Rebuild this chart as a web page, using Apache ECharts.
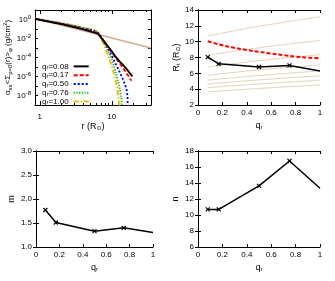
<!DOCTYPE html>
<html><head><meta charset="utf-8">
<script src="https://cdn.jsdelivr.net/npm/echarts@6/dist/echarts.min.js"></script>
<style>html,body{margin:0;padding:0;background:#fff}#c{width:335px;height:281px}</style>
</head><body><div id="c"></div>
<script>
// ---------- data ----------
const legendNames = ['0.08', '0.17', '0.50', '0.76', '1.00'];
// panel 1: profiles vs r (R_sun)
const r08 = [0.86, 1, 1.5, 2, 3, 4, 5, 6, 6.5, 7, 8, 9, 10, 11, 12, 13, 14, 15, 16, 17, 18, 19.3];
const v08 = [1.2, 0.93, 0.5, 0.32, 0.16, 0.089, 0.056, 0.038, 0.028, 0.014, 4.0e-3, 1.26e-3, 4.5e-4, 1.6e-4, 7.1e-5, 3.5e-5, 2.0e-5, 1.1e-5, 6.3e-6, 3.5e-6, 2.0e-6, 1.0e-6];
const r17 = [0.86, 1, 1.5, 2, 3, 4, 5, 6, 6.5, 7, 8, 9, 10, 11, 12, 13, 14, 15, 16, 17, 18, 18.7];
const v17 = [1.2, 0.95, 0.52, 0.34, 0.17, 0.1, 0.063, 0.043, 0.032, 0.016, 4.0e-3, 1.1e-3, 3.5e-4, 1.26e-4, 5.0e-5, 2.2e-5, 1.0e-5, 5.0e-6, 2.2e-6, 1.1e-6, 5.6e-7, 3.5e-7];
const r50 = [0.86, 1, 1.5, 2, 3, 4, 5, 6, 6.5, 7, 8, 9, 10, 11, 12, 13, 14, 15, 16, 16.5, 16.8];
const v50 = [1.2, 0.98, 0.56, 0.37, 0.2, 0.117, 0.079, 0.052, 0.038, 0.018, 3.5e-3, 7.1e-4, 1.6e-4, 3.2e-5, 8.9e-6, 2.5e-6, 7.1e-7, 2.0e-7, 5.0e-8, 1.0e-8, 1e-10];
const r76 = [0.86, 1, 1.5, 2, 3, 4, 5, 6, 6.5, 7, 8, 9, 10, 11, 12, 13, 13.7, 14];
const v76 = [1.2, 1.0, 0.59, 0.4, 0.22, 0.13, 0.089, 0.06, 0.04, 0.016, 2.5e-3, 4.0e-4, 7.1e-5, 6.3e-6, 5.0e-7, 4.0e-8, 3.2e-9, 1e-10];
const r100 = [0.86, 1, 1.5, 2, 3, 4, 5, 6, 6.5, 7, 8, 9, 10, 11, 12, 12.5, 12.7];
const v100 = [1.2, 1.0, 0.6, 0.42, 0.24, 0.14, 0.1, 0.066, 0.04, 0.0126, 1.26e-3, 1.26e-4, 1.26e-5, 1.0e-6, 4.0e-8, 3.2e-9, 1e-10];
const rTan = [0.86, 35];
const vTan = [1.25, 1.0e-3];
const rMajorTicks = [1, 10];
const rMinorTicks = [2, 3, 4, 5, 6, 7, 8, 9, 20, 30];
// panel 2: R_t vs q_r
const qPts = [0.08, 0.17, 0.5, 0.75, 1.0];
const rtVals = [8.05, 7.2, 6.8, 7.0, 6.3];
const qRed = [0.08, 0.2, 0.3, 0.4, 0.5, 0.6, 0.7, 0.8, 0.9, 1.0];
const rtRed = [10.05, 9.55, 9.22, 8.95, 8.72, 8.5, 8.3, 8.12, 7.98, 7.88];
const qTan = [0.08, 0.3, 0.6, 1.0];
const tan1 = [10.7, 11.38, 12.20, 13.14];
const tan2 = [8.27, 8.80, 9.43, 10.15];
const tan3 = [6.81, 7.24, 7.76, 8.36];
const tan4 = [5.76, 6.13, 6.57, 7.07];
const tan5 = [5.13, 5.46, 5.85, 6.30];
const tan6 = [4.63, 4.93, 5.28, 5.68];
const tan7 = [4.18, 4.45, 4.76, 5.13];
const tan8 = [3.67, 3.90, 4.18, 4.51];
// panel 3, 4
const mVals = [1.77, 1.51, 1.33, 1.40, 1.30];
const nVals = [10.7, 10.7, 13.65, 16.75, 13.35];

// ---------- chart ----------
const FONT = 'Liberation Sans, DejaVu Sans, sans-serif';
const zip = (a, b) => a.map((x, i) => [x, b[i]]);
const tick = { show: true, inside: true, length: 3, lineStyle: { color: '#000', width: 1 } };
const line = { show: true, lineStyle: { color: '#000', width: 1 } };
const subRich = { s: { fontSize: 6, verticalAlign: 'bottom' }, p: { fontSize: 6, verticalAlign: 'top' } };

function linX(g, pos, min, max, interval, showLab, name) {
  return {
    type: 'value', gridIndex: g, position: pos, min, max, interval,
    axisLine: line, axisTick: tick, splitLine: { show: false },
    axisLabel: { show: showLab, fontSize: 8, color: '#000', margin: 4, fontFamily: FONT },
    name: name || '', nameLocation: 'middle', nameGap: 16,
    nameTextStyle: { fontSize: 9, color: '#000', fontFamily: FONT, rich: subRich }
  };
}
function linY(g, pos, min, max, interval, showLab, name, gap, fmt) {
  return {
    type: 'value', gridIndex: g, position: pos, min, max, interval,
    axisLine: line, axisTick: tick, splitLine: { show: false },
    axisLabel: { show: showLab, fontSize: 8, color: '#000', margin: 4, fontFamily: FONT, formatter: fmt },
    name: name || '', nameLocation: 'middle', nameGap: gap || 20, nameRotate: 90,
    nameTextStyle: { fontSize: 9, color: '#000', fontFamily: FONT, rich: subRich }
  };
}
const logLabRich = { p: { fontSize: 6, verticalAlign: 'top' } };
function logXLabel(v) {
  const e = Math.log10(v);
  if (Math.abs(e - Math.round(e)) > 1e-6) return '';
  return String(Math.round(Math.pow(10, Math.round(e))));
}
function logYLabel(v) {
  const le = Math.log10(v), e = Math.round(le);
  if (Math.abs(le - e) > 0.01 || e % 2 !== 0) return '';
  return '10{p|' + e + '}';
}

const xAxis = [
  { type: 'log', logBase: 10, gridIndex: 0, position: 'bottom', min: 0.86, max: 35, splitNumber: 2,
    axisLine: line, axisTick: { show: false }, splitLine: { show: false },
    axisLabel: { fontSize: 8, color: '#000', margin: 8, fontFamily: FONT, formatter: logXLabel, showMinLabel: false, showMaxLabel: false },
    name: 'r (R{s|⊙})', nameLocation: 'middle', nameGap: 17,
    nameTextStyle: { fontSize: 9, color: '#000', fontFamily: FONT, rich: subRich } },
  { type: 'log', logBase: 10, gridIndex: 0, position: 'top', min: 0.86, max: 35, splitNumber: 2,
    axisLine: line, axisTick: { show: false }, splitLine: { show: false }, axisLabel: { show: false } },
  linX(1, 'bottom', 0, 1, 0.2, true, 'q{s|r}'),
  linX(1, 'top', 0, 1, 0.2, false),
  linX(2, 'bottom', 0, 1, 0.2, true, 'q{s|r}'),
  linX(2, 'top', 0, 1, 0.2, false),
  linX(3, 'bottom', 0, 1, 0.2, true, 'q{s|r}'),
  linX(3, 'top', 0, 1, 0.2, false)
];
const yAxis = [
  { type: 'log', logBase: 10, gridIndex: 0, position: 'left', min: 1e-9, max: 10, splitNumber: 10,
    axisLine: line, axisTick: tick, splitLine: { show: false },
    axisLabel: { fontSize: 8, color: '#000', margin: 4, fontFamily: FONT, formatter: logYLabel, lineHeight: 11, rich: logLabRich },
    name: 'α{s|ss}<Σ{s|p=0}(r)>{s|φ} (g/cm{p|2})', nameLocation: 'middle', nameGap: 22, nameRotate: 90,
    nameTextStyle: { fontSize: 8, lineHeight: 11, color: '#000', fontFamily: FONT, rich: subRich } },
  { type: 'log', logBase: 10, gridIndex: 0, position: 'right', min: 1e-9, max: 10, splitNumber: 10,
    axisLine: line, axisTick: tick, splitLine: { show: false }, axisLabel: { show: false } },
  linY(1, 'left', 2, 14, 2, true, 'R{s|t} (R{s|⊙})', 14),
  linY(1, 'right', 2, 14, 2, false),
  linY(2, 'left', 1, 3, 0.5, true, 'm', 20, v => v.toFixed(1)),
  linY(2, 'right', 1, 3, 0.5, false),
  linY(3, 'left', 6, 18, 2, true, 'n', 18),
  linY(3, 'right', 6, 18, 2, false)
];

function tickSeries(vals, len) {
  return {
    type: 'custom', xAxisIndex: 0, yAxisIndex: 0, silent: true, clip: false, z: 5,
    data: vals.map(v => [v, 1]),
    renderItem: (params, api) => {
      const x = Math.round(api.coord([api.value(0), 1])[0]) + 0.5;
      const cs = params.coordSys;
      const b = cs.y + cs.height, t = cs.y;
      const st = { stroke: '#000', lineWidth: 1 };
      return { type: 'group', children: [
        { type: 'line', shape: { x1: x, y1: b, x2: x, y2: b - len }, style: st },
        { type: 'line', shape: { x1: x, y1: t, x2: x, y2: t + len }, style: st }
      ] };
    }
  };
}

const profColors = ['#000000', '#ff0000', '#0000ff', '#00c000', '#f5b400'];
const profDash = ['solid', [4, 2], [2, 2], [1.2, 1.5], [5, 2, 1.5, 2]];
const profR = [r08, r17, r50, r76, r100];
const profV = [v08, v17, v50, v76, v100];

const series = [];
series.push({ type: 'line', xAxisIndex: 0, yAxisIndex: 0, data: zip(rTan, vTan), symbol: 'none',
  lineStyle: { color: '#cdb08e', width: 1.5 }, z: 1, silent: true });
legendNames.forEach((nm, i) => {
  series.push({ name: nm, type: 'line', xAxisIndex: 0, yAxisIndex: 0, data: zip(profR[i], profV[i]),
    symbol: 'none', color: profColors[i],
    lineStyle: { color: profColors[i], width: 1.8, type: profDash[i] }, z: 10 - i });
});
series.push(tickSeries(rMajorTicks, 4));
series.push(tickSeries(rMinorTicks, 2));

[tan1, tan2, tan3, tan4, tan5, tan6, tan7, tan8].forEach(t => {
  series.push({ type: 'line', xAxisIndex: 2, yAxisIndex: 2, data: zip(qTan, t), symbol: 'none', smooth: true,
    lineStyle: { color: '#e2d2be', width: 1 }, z: 1, silent: true });
});
series.push({ type: 'line', xAxisIndex: 2, yAxisIndex: 2, data: zip(qRed, rtRed), symbol: 'none', smooth: true,
  lineStyle: { color: '#ff0000', width: 2, type: [4, 2] }, z: 3 });

const xSym = 'path://M0,0L10,10M10,0L0,10';
function ptSeries(xi, yi, vals) {
  return { type: 'line', xAxisIndex: xi, yAxisIndex: yi,
    data: qPts.map((q, i) => i === qPts.length - 1 ? { value: [q, vals[i]], symbol: 'none' } : [q, vals[i]]),
    symbol: xSym, symbolSize: 4, showSymbol: true,
    itemStyle: { color: '#000', borderColor: '#000', borderWidth: 1.2 },
    lineStyle: { color: '#000', width: 1.5 }, z: 5 };
}
series.push(ptSeries(2, 2, rtVals));
series.push(ptSeries(4, 4, mVals));
series.push(ptSeries(6, 6, nVals));

const chart = echarts.init(document.getElementById('c'), null, { renderer: 'canvas' });
chart.setOption({
  animation: false,
  backgroundColor: '#fff',
  textStyle: { fontFamily: FONT },
  grid: [
    { left: 35, top: 10, width: 116, height: 95 },
    { left: 198, top: 10, width: 122, height: 95 },
    { left: 36, top: 151, width: 117, height: 96 },
    { left: 198, top: 151, width: 122, height: 96 }
  ],
  legend: {
    data: legendNames, orient: 'vertical', left: 42, top: 62, align: 'right', padding: 0,
    itemWidth: 15, itemHeight: 6, itemGap: 0, selectedMode: false,
    itemStyle: { opacity: 0 },
    formatter: n => 'q{s|r}=' + n,
    textStyle: { fontSize: 8, lineHeight: 8.75, color: '#000', fontFamily: FONT, rich: { s: { fontSize: 6, verticalAlign: 'bottom' } } }
  },
  xAxis, yAxis, series
});
</script></body></html>
